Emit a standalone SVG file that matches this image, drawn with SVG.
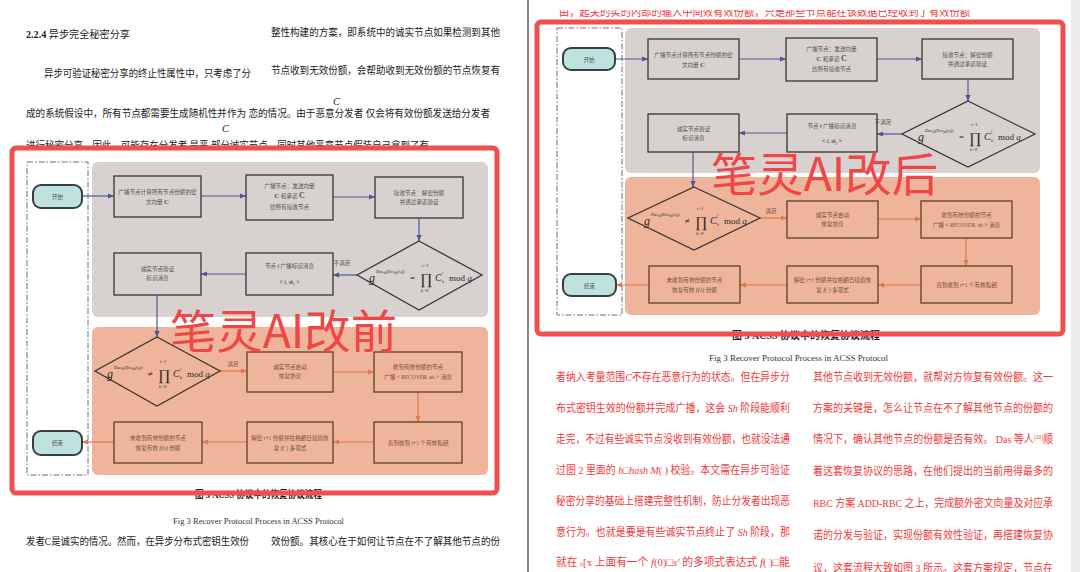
<svg xmlns="http://www.w3.org/2000/svg" width="1080" height="572" viewBox="0 0 1080 572">
<style>
.page{fill:#ffffff}
.body{font-family:"Liberation Serif","Noto Sans CJK SC",serif;font-size:10.5px;fill:#222}
.red{font-family:"Liberation Serif","Noto Sans CJK SC",serif;font-size:11px;fill:#f0393c}
.cap{font-family:"Liberation Serif","Noto Sans CJK SC",serif;font-size:9px;fill:#333}
.capb{font-family:"Liberation Serif","Noto Sans CJK SC",serif;font-size:10px;fill:#222;font-weight:bold}
.lane{fill:#fff;stroke:#707070;stroke-width:1;stroke-dasharray:6 2 1.5 2}
.rg{fill:#d7d1cf}
.ro{fill:#eeb59c}
.box{fill:none;stroke:#3b3434;stroke-width:1.3}
.boxo{fill:none;stroke:#5e3c30;stroke-width:1.3}
.term{fill:#bfe2de;stroke:#334141;stroke-width:2}
.bt{font-family:"Liberation Serif","Noto Sans CJK SC",serif;font-size:5.6px;fill:#5a5252;text-anchor:middle}
.bto{fill:#7a4c3e}
.mt{font-family:"Liberation Serif","DejaVu Serif",serif;fill:#2a2a2a}
.lab{font-family:"Liberation Serif","Noto Sans CJK SC",serif;font-size:5.6px;fill:#5a5252;text-anchor:middle}
.labo{fill:#8a5040}
.cb{fill:none;stroke:#4c5896;stroke-width:1.2}
.co{fill:none;stroke:#e0784b;stroke-width:1.2}
.frame{fill:none;stroke:#f04f4f;stroke-width:5}
.wm{font-family:"Noto Sans CJK SC","Noto Sans",sans-serif;font-size:46px;fill:#f04646}
</style>
<defs>
<marker id="ab" viewBox="0 0 6 6" refX="6" refY="3" markerWidth="6" markerHeight="6" markerUnits="userSpaceOnUse" orient="auto"><path d="M0,0.4 L6,3 L0,5.6 Z" fill="#4c5896"/></marker>
<marker id="ao" viewBox="0 0 6 6" refX="6" refY="3" markerWidth="6" markerHeight="6" markerUnits="userSpaceOnUse" orient="auto"><path d="M0,0.4 L6,3 L0,5.6 Z" fill="#e0784b"/></marker>
<g id="fEq">
<text class="mt" x="-52" y="6" font-size="12" font-style="italic">g</text>
<text class="mt" x="-45" y="-3" font-size="4.5" font-style="italic">Dec<tspan font-size="3.2" dy="1">sk</tspan><tspan dy="-1">(Enc</tspan><tspan font-size="3.2" dy="1">pk</tspan><tspan dy="-1">(s</tspan><tspan font-size="3.2" dy="1">i</tspan><tspan dy="-1">))</tspan></text>
<text class="mt" x="-11" y="5" font-size="9">=</text>
<text class="mt" x="-1" y="8" font-size="15">∏</text>
<text class="mt" x="1" y="-9" font-size="4.5" font-style="italic">t−1</text>
<text class="mt" x="0" y="16" font-size="4.5" font-style="italic">k=0</text>
<text class="mt" x="14" y="5" font-size="10" font-style="italic">C</text>
<text class="mt" x="21" y="-2" font-size="4.5" font-style="italic">i</text>
<text class="mt" x="21" y="7" font-size="4.5" font-style="italic">k</text>
<text class="mt" x="28" y="5" font-size="9">mod <tspan font-style="italic">q</tspan></text>
</g>
<g id="fNe">
<text class="mt" x="-52" y="6" font-size="12" font-style="italic">g</text>
<text class="mt" x="-45" y="-3" font-size="4.5" font-style="italic">Dec<tspan font-size="3.2" dy="1">sk</tspan><tspan dy="-1">(Enc</tspan><tspan font-size="3.2" dy="1">pk</tspan><tspan dy="-1">(s</tspan><tspan font-size="3.2" dy="1">i</tspan><tspan dy="-1">))</tspan></text>
<text class="mt" x="-11" y="5" font-size="9">≠</text>
<text class="mt" x="-1" y="8" font-size="15">∏</text>
<text class="mt" x="1" y="-9" font-size="4.5" font-style="italic">t−1</text>
<text class="mt" x="0" y="16" font-size="4.5" font-style="italic">k=0</text>
<text class="mt" x="14" y="5" font-size="10" font-style="italic">C</text>
<text class="mt" x="21" y="-2" font-size="4.5" font-style="italic">i</text>
<text class="mt" x="21" y="7" font-size="4.5" font-style="italic">k</text>
<text class="mt" x="28" y="5" font-size="9">mod <tspan font-style="italic">q</tspan></text>
</g>
<clipPath id="topcut"><rect x="530" y="10" width="540" height="10"/></clipPath>
</defs>

<!-- pages -->
<rect x="0" y="0" width="1080" height="572" fill="#ffffff"/>
<rect x="1071" y="0" width="9" height="572" fill="#ececec"/>
<line x1="528" y1="0" x2="528" y2="572" stroke="#3a3a3a" stroke-width="1.2"/>

<!-- left page text -->
<g id="left-text">
<text class="body" x="26" y="38" textLength="104" lengthAdjust="spacingAndGlyphs"><tspan font-weight="bold">2.2.4</tspan> 异步完全秘密分享</text>
<text class="body" x="271" y="36" textLength="229" lengthAdjust="spacingAndGlyphs">整性构建的方案，即系统中的诚实节点如果检测到其他</text>
<text class="body" x="44" y="77" textLength="207" lengthAdjust="spacingAndGlyphs">异步可验证秘密分享的终止性属性中，只考虑了分</text>
<text class="body" x="271" y="74" textLength="229" lengthAdjust="spacingAndGlyphs">节点收到无效份额，会帮助收到无效份额的节点恢复有</text>
<text class="body" x="26" y="117" textLength="464" lengthAdjust="spacingAndGlyphs">成的系统假设中，所有节点都需要生成随机性并作为 恋的情况。由于恶意分发者 仅会将有效份额发送给分发者</text>
<text class="body" x="333" y="105" font-size="5" font-style="italic">C</text>
<text class="body" x="222" y="132" font-size="8" font-style="italic">C</text>
<text class="body" x="26" y="149" textLength="403" lengthAdjust="spacingAndGlyphs">进行秘密分享。因此，可能存在分发者 是恶 部分诚实节点，同时其他恶意节点假装自己拿到了有</text>
<text class="capb" x="195" y="498" textLength="127" lengthAdjust="spacingAndGlyphs">图 3 ACSS 协议中的恢复协议流程</text>
<text class="cap" x="173" y="524" textLength="171" lengthAdjust="spacingAndGlyphs">Fig 3  Recover Protocol Process in ACSS Protocol</text>
<text class="body" x="26" y="545" textLength="223" lengthAdjust="spacingAndGlyphs">发者C是诚实的情况。然而，在异步分布式密钥生效份</text>
<text class="body" x="271" y="545" textLength="229" lengthAdjust="spacingAndGlyphs">效份额。其核心在于如何让节点在不了解其他节点的份</text>
</g>

<!-- left diagram -->
<g id="left-regions">
<rect class="lane" x="27" y="162" width="61" height="313"/>
<rect class="rg" x="92" y="162" width="396" height="155" rx="6"/>
<rect class="ro" x="92" y="327" width="396" height="148" rx="6"/>
</g>
<g id="connectors-left">
<path class="cb" d="M82,196 H114" marker-end="url(#ab)"/>
<path class="cb" d="M201,196 H246" marker-end="url(#ab)"/>
<path class="cb" d="M333,197 H375" marker-end="url(#ab)"/>
<path class="cb" d="M419,218 V241" marker-end="url(#ab)"/>
<path class="cb" d="M357,275 H333" marker-end="url(#ab)"/>
<path class="cb" d="M246,274 H201" marker-end="url(#ab)"/>
<path class="cb" d="M157,295 V337" marker-end="url(#ab)"/>
<path class="co" d="M220,371 H247" marker-end="url(#ao)"/>
<path class="co" d="M333,372 H374" marker-end="url(#ao)"/>
<path class="co" d="M418,392 V422" marker-end="url(#ao)"/>
<path class="co" d="M374,442 H333" marker-end="url(#ao)"/>
<path class="co" d="M247,442 H202" marker-end="url(#ao)"/>
<path class="co" d="M114,442 H82" marker-end="url(#ao)"/>
<text class="lab" x="342" y="265">不满足</text>
<text class="lab labo" x="233" y="366">满足</text>
</g>
<g id="L-start"><rect class="term" x="33" y="185" width="49" height="23" rx="8"/><text class="bt" x="57.5" y="199" font-size="6.5">开始</text></g>
<g id="L-b1"><rect class="box" x="114" y="176" width="87" height="41"/><text class="bt" x="157.5" y="194">广播节点计算所有节点份额的密</text><text class="bt" x="157.5" y="204">文向量 <tspan font-weight="bold" font-size="7">C</tspan></text></g>
<g id="L-b2"><rect class="box" x="246" y="175" width="87" height="45"/><text class="bt" x="289.5" y="188">广播节点：发送向量</text><text class="bt" x="289.5" y="198"><tspan font-weight="bold" font-size="7">C</tspan> 和承诺 <tspan font-weight="bold" font-size="8">C</tspan></text><text class="bt" x="289.5" y="209">给所有接收节点</text></g>
<g id="L-b3"><rect class="box" x="375" y="177" width="88" height="41"/><text class="bt" x="419" y="195">接收节点：解密份额</text><text class="bt" x="419" y="204">并通过承诺验证</text></g>
<g id="L-d1"><polygon class="box" points="419,241 482,275 419,310 357,275"/><use href="#fEq" transform="translate(421,276)"/></g>
<g id="L-b4"><rect class="box" x="246" y="253" width="87" height="42"/><text class="bt" x="289.5" y="268">节点 <tspan font-style="italic" font-weight="bold">i</tspan> 广播标识消息</text><text class="bt mt" x="289.5" y="284" font-size="8" font-style="italic">&lt; i, sk<tspan font-size="5" dy="1.5">i</tspan><tspan dy="-1.5"> &gt;</tspan></text></g>
<g id="L-b5"><rect class="box" x="114" y="253" width="87" height="42"/><text class="bt" x="157.5" y="271">诚实节点验证</text><text class="bt" x="157.5" y="280">标识消息</text></g>
<g id="L-d2"><polygon class="box" points="157,337 220,371 157,406 95,371"/><use href="#fNe" transform="translate(159,372)"/></g>
<g id="L-b6"><rect class="boxo" x="247" y="352" width="86" height="40"/><text class="bt bto" x="290" y="369">诚实节点启动</text><text class="bt bto" x="290" y="378">恢复协议</text></g>
<g id="L-b7"><rect class="boxo" x="374" y="352" width="88" height="40"/><text class="bt bto" x="418" y="369">收到有效份额的节点</text><text class="bt bto" x="418" y="379">广播 &lt; <tspan font-style="italic">RECOVER, sk<tspan font-size="4">i</tspan></tspan> &gt; 消息</text></g>
<g id="L-b8"><rect class="boxo" x="374" y="422" width="88" height="41"/><text class="bt bto" x="418" y="445">直到收到 <tspan font-style="italic">t</tspan>+1 个有效私钥</text></g>
<g id="L-b9"><rect class="boxo" x="247" y="422" width="86" height="41"/><text class="bt bto" x="290" y="440">解密 <tspan font-style="italic">t</tspan>+1 份额并拉格朗日插值恢</text><text class="bt bto" x="290" y="450">复 <tspan font-style="italic" font-size="7">f</tspan>(·) 多项式</text></g>
<g id="L-b10"><rect class="boxo" x="114" y="422" width="88" height="41"/><text class="bt bto" x="158" y="440">未收到有效份额的节点</text><text class="bt bto" x="158" y="450">恢复有效 <tspan font-style="italic" font-size="7">f(i)</tspan> 份额</text></g>
<g id="L-end"><rect class="term" x="33" y="431" width="49" height="24" rx="8"/><text class="bt" x="57.5" y="445" font-size="6.5">结束</text></g>
<text class="wm" x="170" y="348" textLength="227" lengthAdjust="spacingAndGlyphs">笔灵AI改前</text>
<rect class="frame" x="12" y="148" width="485" height="345" rx="4"/>

<!-- right page text -->
<g id="right-text">
<text class="red" x="559" y="16" textLength="411" lengthAdjust="spacingAndGlyphs" clip-path="url(#topcut)">由，起关的实的内部的输入中间效有效份额，只是那些节点能在该数据已经收到了有效份额</text>
<text class="capb" x="732" y="339" textLength="148" lengthAdjust="spacingAndGlyphs">图 3 ACSS 协议中的恢复协议流程</text>
<text class="cap" x="709" y="361" textLength="179" lengthAdjust="spacingAndGlyphs">Fig 3  Recover Protocol Process in ACSS Protocol</text>
<text class="red" x="556" y="381" textLength="234" lengthAdjust="spacingAndGlyphs">者纳入考量范围<tspan font-style="italic">C</tspan>不存在恶意行为的状态。但在异步分</text>
<text class="red" x="556" y="412" textLength="234" lengthAdjust="spacingAndGlyphs">布式密钥生效的份额并完成广播，这会 <tspan font-style="italic">Sh</tspan> 阶段能顺利</text>
<text class="red" x="556" y="443" textLength="234" lengthAdjust="spacingAndGlyphs">走完，不过有些诚实节点没收到有效份额，也就没法通</text>
<text class="red" x="556" y="474" textLength="234" lengthAdjust="spacingAndGlyphs">过图 2 里面的 <tspan font-style="italic">h</tspan>□<tspan font-style="italic">hash M</tspan>( ) 校验。本文需在异步可验证</text>
<text class="red" x="556" y="505" textLength="234" lengthAdjust="spacingAndGlyphs">秘密分享的基础上搭建完整性机制，防止分发者出现恶</text>
<text class="red" x="556" y="536" textLength="234" lengthAdjust="spacingAndGlyphs">意行为。也就是要是有些诚实节点终止了 <tspan font-style="italic">Sh</tspan> 阶段，那</text>
<text class="red" x="556" y="566" textLength="234" lengthAdjust="spacingAndGlyphs">就在 <tspan font-size="6">p</tspan>[x 上面有一个 <tspan font-style="italic">f</tspan>(0)□<tspan font-style="italic">s'</tspan> 的多项式表达式 <tspan font-style="italic">f</tspan>( )□能</text>
<text class="red" x="813" y="381" textLength="240" lengthAdjust="spacingAndGlyphs">其他节点收到无效份额，就帮对方恢复有效份额。这一</text>
<text class="red" x="813" y="412" textLength="240" lengthAdjust="spacingAndGlyphs">方案的关键是，怎么让节点在不了解其他节点的份额的</text>
<text class="red" x="813" y="443" textLength="240" lengthAdjust="spacingAndGlyphs">情况下，确认其他节点的份额是否有效。 Das 等人<tspan font-size="6" dy="-4">[20]</tspan><tspan dy="4">顺</tspan></text>
<text class="red" x="813" y="475" textLength="240" lengthAdjust="spacingAndGlyphs">着这套恢复协议的思路，在他们提出的当前用得最多的</text>
<text class="red" x="813" y="507" textLength="240" lengthAdjust="spacingAndGlyphs">RBC 方案 ADD-RBC 之上，完成额外密文向量及对应承</text>
<text class="red" x="813" y="539" textLength="240" lengthAdjust="spacingAndGlyphs">诺的分发与验证，实现份额有效性验证，再搭建恢复协</text>
<text class="red" x="813" y="572" textLength="240" lengthAdjust="spacingAndGlyphs">议，这套流程大致如图 3 所示。这套方案规定，节点在</text>
</g>

<!-- right diagram -->
<g id="right-regions">
<rect class="lane" x="557" y="28" width="65" height="287"/>
<rect class="rg" x="625" y="28" width="415" height="145" rx="6"/>
<rect class="ro" x="625" y="177" width="415" height="138" rx="6"/>
</g>
<g id="connectors-right">
<path class="cb" d="M615,59 H648" marker-end="url(#ab)"/>
<path class="cb" d="M739,59 H786" marker-end="url(#ab)"/>
<path class="cb" d="M877,59 H922" marker-end="url(#ab)"/>
<path class="cb" d="M968,79 V101" marker-end="url(#ab)"/>
<path class="cb" d="M902,134 H877" marker-end="url(#ab)"/>
<path class="cb" d="M787,133 H739" marker-end="url(#ab)"/>
<path class="cb" d="M693,152 V187" marker-end="url(#ab)"/>
<path class="co" d="M760,218 H787" marker-end="url(#ao)"/>
<path class="co" d="M878,219 H921" marker-end="url(#ao)"/>
<path class="co" d="M966,238 V266" marker-end="url(#ao)"/>
<path class="co" d="M921,285 H878" marker-end="url(#ao)"/>
<path class="co" d="M787,285 H740" marker-end="url(#ao)"/>
<path class="co" d="M649,285 H616" marker-end="url(#ao)"/>
<text class="lab" x="883" y="124">不满足</text>
<text class="lab labo" x="771" y="213">满足</text>
</g>
<g id="R-start"><rect class="term" x="563" y="48" width="52" height="22" rx="8"/><text class="bt" x="589" y="62" font-size="6.5">开始</text></g>
<g id="R-b1"><rect class="box" x="648" y="39" width="91" height="40"/><text class="bt" x="693.5" y="57">广播节点计算所有节点份额的密</text><text class="bt" x="693.5" y="67">文向量 <tspan font-weight="bold" font-size="7">C</tspan></text></g>
<g id="R-b2"><rect class="box" x="786" y="38" width="91" height="43"/><text class="bt" x="831.5" y="51">广播节点：发送向量</text><text class="bt" x="831.5" y="61"><tspan font-weight="bold" font-size="7">C</tspan> 和承诺 <tspan font-weight="bold" font-size="8">C</tspan></text><text class="bt" x="831.5" y="71">给所有接收节点</text></g>
<g id="R-b3"><rect class="box" x="922" y="39" width="91" height="40"/><text class="bt" x="967.5" y="57">接收节点：解密份额</text><text class="bt" x="967.5" y="66">并通过承诺验证</text></g>
<g id="R-d1"><polygon class="box" points="968,101 1035,134 968,167 902,134"/><use href="#fEq" transform="translate(970,135)"/></g>
<g id="R-b4"><rect class="box" x="787" y="114" width="90" height="38"/><text class="bt" x="832" y="128">节点 <tspan font-style="italic" font-weight="bold">i</tspan> 广播标识消息</text><text class="bt mt" x="832" y="143" font-size="8" font-style="italic">&lt; i, sk<tspan font-size="5" dy="1.5">i</tspan><tspan dy="-1.5"> &gt;</tspan></text></g>
<g id="R-b5"><rect class="box" x="648" y="114" width="91" height="38"/><text class="bt" x="693.5" y="131">诚实节点验证</text><text class="bt" x="693.5" y="140">标识消息</text></g>
<g id="R-d2"><polygon class="box" points="694,187 760,218 694,250 628,218"/><use href="#fNe" transform="translate(696,219)"/></g>
<g id="R-b6"><rect class="boxo" x="787" y="201" width="91" height="37"/><text class="bt bto" x="832.5" y="217">诚实节点启动</text><text class="bt bto" x="832.5" y="226">恢复协议</text></g>
<g id="R-b7"><rect class="boxo" x="921" y="201" width="91" height="37"/><text class="bt bto" x="966.5" y="217">收到有效份额的节点</text><text class="bt bto" x="966.5" y="227">广播 &lt; <tspan font-style="italic">RECOVER, sk<tspan font-size="4">i</tspan></tspan> &gt; 消息</text></g>
<g id="R-b8"><rect class="boxo" x="921" y="266" width="91" height="37"/><text class="bt bto" x="966.5" y="287">直到收到 <tspan font-style="italic">t</tspan>+1 个有效私钥</text></g>
<g id="R-b9"><rect class="boxo" x="787" y="266" width="91" height="37"/><text class="bt bto" x="832.5" y="282">解密 <tspan font-style="italic">t</tspan>+1 份额并拉格朗日插值恢</text><text class="bt bto" x="832.5" y="292">复 <tspan font-style="italic" font-size="7">f</tspan>(·) 多项式</text></g>
<g id="R-b10"><rect class="boxo" x="649" y="266" width="91" height="37"/><text class="bt bto" x="694.5" y="282">未收到有效份额的节点</text><text class="bt bto" x="694.5" y="292">恢复有效 <tspan font-style="italic" font-size="7">f(i)</tspan> 份额</text></g>
<g id="R-end"><rect class="term" x="563" y="274" width="53" height="22" rx="8"/><text class="bt" x="589.5" y="287.5" font-size="6.5">结束</text></g>
<text class="wm" x="711" y="191" textLength="227" lengthAdjust="spacingAndGlyphs">笔灵AI改后</text>
<rect class="frame" x="537" y="22" width="526" height="312" rx="4"/>
</svg>
